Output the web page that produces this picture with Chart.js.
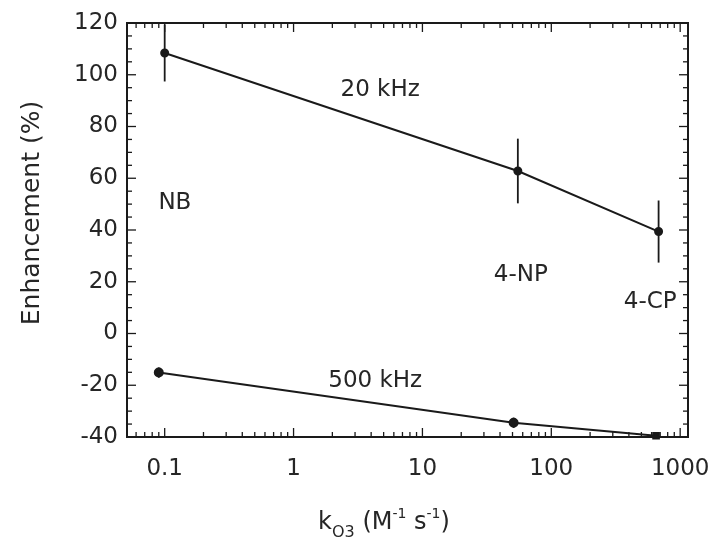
<!DOCTYPE html>
<html><head><meta charset="utf-8">
<script src="https://cdn.jsdelivr.net/npm/chart.js@4/dist/chart.umd.min.js"></script>
<style>html,body{margin:0;padding:0;background:#fff}</style>
</head><body>
<canvas id="c" width="719" height="546"></canvas>
<script>
// ---- data ----
const xTickLabels = [0.1, 1, 10, 100, 1000];
const yTickLabels = [-40, -20, 0, 20, 40, 60, 80, 100, 120];
const kO3_20kHz = [0.1, 55, 680];
const enh_20kHz = [108.4, 62.8, 39.4];
const err_20kHz = [11, 12.5, 12];
const kO3_500kHz = [0.09, 51, 650];
const enh_500kHz = [-15.1, -34.5, -39.5];
const err_500kHz = [2, 2, 0];
const annTexts = ['20 kHz', 'NB', '4-NP', '4-CP', '500 kHz'];
const annX = [4.7, 0.12, 58, 586, 4.3];
const annY = [94, 50.3, 22.6, 12.2, -18.5];
const yTitle = 'Enhancement (%)';

const FONT = "'DejaVu Sans', sans-serif";
const TXT = '#262626';
const INK = '#1a1a1a';

const errorBars = {
  id: 'errorBars',
  afterDatasetsDraw(chart) {
    const {ctx, scales: {x, y}} = chart;
    ctx.save();
    ctx.strokeStyle = INK; ctx.lineWidth = 1.8;
    chart.data.datasets.forEach(ds => {
      (ds.errors || []).forEach((e, i) => {
        if (!e) return;
        const p = ds.data[i];
        const px = x.getPixelForValue(p.x);
        ctx.beginPath();
        ctx.moveTo(px, y.getPixelForValue(p.y - e));
        ctx.lineTo(px, y.getPixelForValue(p.y + e));
        ctx.stroke();
      });
    });
    ctx.restore();
  }
};

const frame = {
  id: 'frame',
  afterDatasetsDraw(chart) {
    const {ctx, chartArea: a, scales: {x, y}} = chart;
    ctx.save();
    ctx.strokeStyle = INK; ctx.lineWidth = 1.3;
    const seg = (x1, y1, x2, y2) => { ctx.beginPath(); ctx.moveTo(x1, y1); ctx.lineTo(x2, y2); ctx.stroke(); };
    for (let d = -2; d <= 3; d++) {
      for (let m = 1; m <= 9; m++) {
        const v = m * Math.pow(10, d);
        if (v < x.min || v > x.max) continue;
        const px = x.getPixelForValue(v);
        const len = m === 1 ? 9 : 5;
        seg(px, a.bottom, px, a.bottom - len);
        seg(px, a.top, px, a.top + len);
      }
    }
    for (let v = y.min; v <= y.max; v += 5) {
      const py = y.getPixelForValue(v);
      const len = v % 20 === 0 ? 9 : 5;
      seg(a.left, py, a.left + len, py);
      seg(a.right, py, a.right - len, py);
    }
    ctx.lineWidth = 2;
    ctx.strokeRect(a.left, a.top, a.right - a.left, a.bottom - a.top);
    ctx.restore();
  }
};

const labels = {
  id: 'labels',
  afterDraw(chart) {
    const {ctx, scales: {x, y}} = chart;
    ctx.save();
    ctx.fillStyle = TXT;
    ctx.font = `23px ${FONT}`;
    ctx.textAlign = 'center'; ctx.textBaseline = 'middle';
    annTexts.forEach((t, i) => ctx.fillText(t, x.getPixelForValue(annX[i]), y.getPixelForValue(annY[i])));
    // y-axis title
    ctx.save();
    ctx.translate(32, 213); ctx.rotate(-Math.PI / 2);
    ctx.font = `25px ${FONT}`;
    ctx.fillText(yTitle, 0, 0);
    ctx.restore();
    // x-axis title with sub/superscripts
    const parts = [['k', 'm'], ['O3', 'sub'], [' (M', 'm'], ['-1', 'sup'], [' s', 'm'], ['-1', 'sup'], [')', 'm']];
    const fonts = {m: `24px ${FONT}`, sub: `16px ${FONT}`, sup: `14px ${FONT}`};
    const dy = {m: 0, sub: 8, sup: -11};
    let w = 0;
    parts.forEach(([t, k]) => { ctx.font = fonts[k]; w += ctx.measureText(t).width; });
    let cx = 384 - w / 2;
    const base = 529;
    ctx.textAlign = 'left'; ctx.textBaseline = 'alphabetic';
    parts.forEach(([t, k]) => { ctx.font = fonts[k]; ctx.fillText(t, cx, base + dy[k]); cx += ctx.measureText(t).width; });
    ctx.restore();
  }
};

new Chart(document.getElementById('c'), {
  type: 'line',
  data: {
    datasets: [
      {
        label: '20 kHz',
        data: kO3_20kHz.map((v, i) => ({x: v, y: enh_20kHz[i]})),
        errors: err_20kHz,
        borderColor: INK, backgroundColor: INK, borderWidth: 2,
        pointRadius: 3.5, pointStyle: 'circle', tension: 0
      },
      {
        label: '500 kHz',
        data: kO3_500kHz.map((v, i) => ({x: v, y: enh_500kHz[i]})),
        errors: err_500kHz,
        borderColor: INK, backgroundColor: INK, borderWidth: 2,
        pointRadius: [4, 4, 4], pointStyle: ['circle', 'circle', 'rect'], tension: 0
      }
    ]
  },
  options: {
    responsive: false, animation: false, devicePixelRatio: 1,
    layout: {padding: {top: 23, right: 31, left: 0, bottom: 0}},
    plugins: {legend: {display: false}, tooltip: {enabled: false}},
    clip: false,
    scales: {
      x: {
        type: 'logarithmic', min: 0.051, max: 1150,
        grid: {display: false, drawTicks: false}, border: {display: false},
        afterBuildTicks: s => { s.ticks = xTickLabels.map(v => ({value: v})); },
        afterFit: s => { s.height = 109; s.paddingRight = 0; s.paddingLeft = 0; },
        ticks: {color: TXT, font: {family: FONT, size: 23}, padding: 18, maxRotation: 0, autoSkip: false,
                callback: v => String(v)}
      },
      y: {
        min: -40, max: 120,
        grid: {display: false, drawTicks: false}, border: {display: false},
        afterBuildTicks: s => { s.ticks = yTickLabels.map(v => ({value: v})); },
        afterFit: s => { s.width = 127; },
        ticks: {color: TXT, font: {family: FONT, size: 23}, padding: 9}
      }
    }
  },
  plugins: [errorBars, frame, labels]
});
</script>
</body></html>
